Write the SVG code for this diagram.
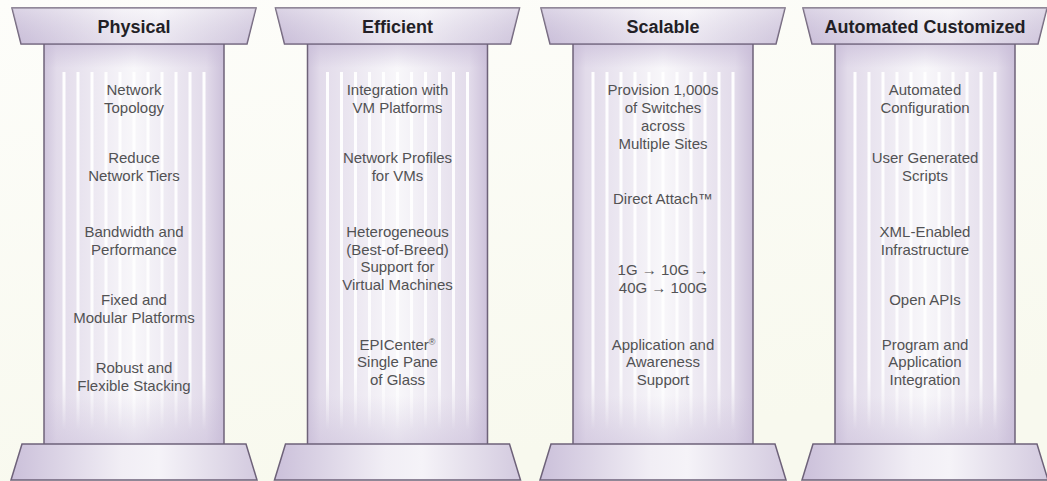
<svg xmlns="http://www.w3.org/2000/svg" xmlns:xlink="http://www.w3.org/1999/xlink" width="1047" height="481" viewBox="0 0 1047 481">
  <defs>
    <linearGradient id="bg" x1="0" y1="0" x2="0.3" y2="1">
      <stop offset="0" stop-color="#fdfdfa"/>
      <stop offset="1" stop-color="#f8f9ee"/>
    </linearGradient>
    <!-- capital and base: lavender at the sides, pale in the middle -->
    <linearGradient id="slab" x1="0" y1="0" x2="1" y2="0">
      <stop offset="0" stop-color="#cbc0da"/>
      <stop offset="0.45" stop-color="#f1eef5"/>
      <stop offset="0.6" stop-color="#f5f3f8"/>
      <stop offset="1" stop-color="#d3cadf"/>
    </linearGradient>
    <linearGradient id="slabShade" x1="0" y1="0" x2="0" y2="1">
      <stop offset="0" stop-color="#ffffff" stop-opacity="0.3"/>
      <stop offset="1" stop-color="#bfb2d0" stop-opacity="0.2"/>
    </linearGradient>
    <!-- shaft: lavender edges fading to white -->
    <linearGradient id="shaft" x1="0" y1="0" x2="1" y2="0">
      <stop offset="0" stop-color="#cfc5dc"/>
      <stop offset="0.07" stop-color="#e2dbea"/>
      <stop offset="0.5" stop-color="#f8f7fa"/>
      <stop offset="0.9" stop-color="#e2dbea"/>
      <stop offset="1" stop-color="#ccc1da"/>
    </linearGradient>
    <linearGradient id="shaftShade" x1="0" y1="0" x2="0" y2="1">
      <stop offset="0" stop-color="#c8bcd8" stop-opacity="0.6"/>
      <stop offset="0.06" stop-color="#c8bcd8" stop-opacity="0"/>
      <stop offset="0.88" stop-color="#c8bcd8" stop-opacity="0"/>
      <stop offset="1" stop-color="#c8bcd8" stop-opacity="0.45"/>
    </linearGradient>
    <linearGradient id="flute" x1="0" y1="0" x2="0" y2="1">
      <stop offset="0" stop-color="#ffffff" stop-opacity="0.95"/>
      <stop offset="0.85" stop-color="#ffffff" stop-opacity="0.85"/>
      <stop offset="1" stop-color="#ffffff" stop-opacity="0"/>
    </linearGradient>

    <!-- one column, drawn about x = 0 -->
    <g id="column">
      <rect x="-90" y="44" width="180" height="400" fill="url(#shaft)"/>
      <rect x="-90" y="44" width="180" height="400" fill="url(#shaftShade)"/>
      <g fill="url(#flute)">
        <rect x="-71.5" y="72" width="3" height="358"/>
        <rect x="-57.5" y="72" width="3" height="358"/>
        <rect x="-43.5" y="72" width="3" height="358"/>
        <rect x="-29.5" y="72" width="3" height="358"/>
        <rect x="-15.5" y="72" width="3" height="358"/>
        <rect x="-1.5" y="72" width="3" height="358"/>
        <rect x="12.5" y="72" width="3" height="358"/>
        <rect x="26.5" y="72" width="3" height="358"/>
        <rect x="40.5" y="72" width="3" height="358"/>
        <rect x="54.5" y="72" width="3" height="358"/>
        <rect x="68.5" y="72" width="3" height="358"/>
      </g>
      <line class="edge" x1="-90" y1="44" x2="-90" y2="444"/>
      <line class="edge" x1="90" y1="44" x2="90" y2="444"/>
      <polygon class="slab" points="-122,8 122,8 113,44 -113,44"/>
      <polygon points="-122,8 122,8 113,44 -113,44" fill="url(#slabShade)" stroke="none"/>
      <polygon class="slab" points="-112,444 112,444 123,480 -123,480"/>
    </g>
  </defs>
  <style>
    .slab { fill: url(#slab); stroke: #6e6279; stroke-width: 1.5; stroke-linejoin: miter; }
    .edge { stroke: #6e6279; stroke-width: 1.5; }
    .title { font-family: "Liberation Sans", Arial, sans-serif; font-weight: bold; font-size: 18px; fill: #231f26; text-anchor: middle; }
    .item { font-family: "Liberation Sans", Arial, sans-serif; font-size: 15px; fill: #525254; text-anchor: middle; }
  </style>

  <rect width="1047" height="481" fill="url(#bg)"/>

  <!-- Physical -->
  <g id="pillar-physical" transform="translate(134,0)">
    <use xlink:href="#column"/>
    <text class="title" x="0" y="33">Physical</text>
    <text class="item" x="0" y="95">Network</text>
    <text class="item" x="0" y="113">Topology</text>
    <text class="item" x="0" y="163">Reduce</text>
    <text class="item" x="0" y="181">Network Tiers</text>
    <text class="item" x="0" y="237">Bandwidth and</text>
    <text class="item" x="0" y="255">Performance</text>
    <text class="item" x="0" y="305">Fixed and</text>
    <text class="item" x="0" y="323">Modular Platforms</text>
    <text class="item" x="0" y="373">Robust and</text>
    <text class="item" x="0" y="391">Flexible Stacking</text>
  </g>

  <!-- Efficient -->
  <g id="pillar-efficient" transform="translate(397.5,0)">
    <use xlink:href="#column"/>
    <text class="title" x="0" y="33">Efficient</text>
    <text class="item" x="0" y="95">Integration with</text>
    <text class="item" x="0" y="113">VM Platforms</text>
    <text class="item" x="0" y="163">Network Profiles</text>
    <text class="item" x="0" y="181">for VMs</text>
    <text class="item" x="0" y="237">Heterogeneous</text>
    <text class="item" x="0" y="255">(Best-of-Breed)</text>
    <text class="item" x="0" y="272">Support for</text>
    <text class="item" x="0" y="290">Virtual Machines</text>
    <text class="item" x="0" y="350">EPICenter<tspan font-size="9" dy="-5">®</tspan></text>
    <text class="item" x="0" y="367">Single Pane</text>
    <text class="item" x="0" y="385">of Glass</text>
  </g>

  <!-- Scalable -->
  <g id="pillar-scalable" transform="translate(663,0)">
    <use xlink:href="#column"/>
    <text class="title" x="0" y="33">Scalable</text>
    <text class="item" x="0" y="95">Provision 1,000s</text>
    <text class="item" x="0" y="113">of Switches</text>
    <text class="item" x="0" y="131">across</text>
    <text class="item" x="0" y="149">Multiple Sites</text>
    <text class="item" x="0" y="204">Direct Attach™</text>
    <text class="item" x="0" y="275">1G → 10G →</text>
    <text class="item" x="0" y="293">40G → 100G</text>
    <text class="item" x="0" y="350">Application and</text>
    <text class="item" x="0" y="367">Awareness</text>
    <text class="item" x="0" y="385">Support</text>
  </g>

  <!-- Automated Customized -->
  <g id="pillar-automated" transform="translate(925,0)">
    <use xlink:href="#column"/>
    <text class="title" x="0" y="33">Automated Customized</text>
    <text class="item" x="0" y="95">Automated</text>
    <text class="item" x="0" y="113">Configuration</text>
    <text class="item" x="0" y="163">User Generated</text>
    <text class="item" x="0" y="181">Scripts</text>
    <text class="item" x="0" y="237">XML-Enabled</text>
    <text class="item" x="0" y="255">Infrastructure</text>
    <text class="item" x="0" y="305">Open APIs</text>
    <text class="item" x="0" y="350">Program and</text>
    <text class="item" x="0" y="367">Application</text>
    <text class="item" x="0" y="385">Integration</text>
  </g>

  <g id="connectors"/>
</svg>
